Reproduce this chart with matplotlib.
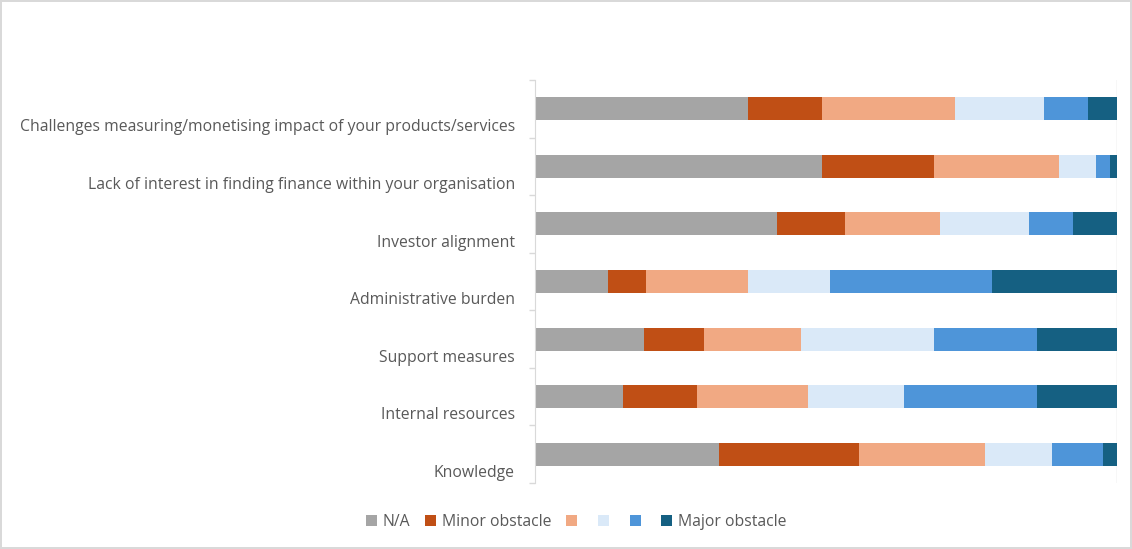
"""Stacked obstacle chart."""

import numpy as np
import matplotlib.pyplot as plt
from matplotlib.patches import Patch

CATEGORIES = ['Challenges measuring/monetising impact of your products/services',
              'Lack of interest in finding finance within your organisation',
              'Investor alignment',
              'Administrative burden',
              'Support measures',
              'Internal resources',
              'Knowledge']

SERIES = ['N/A', 'Minor obstacle', '', '', '', 'Major obstacle']
COLORS = ['#A5A5A5', '#C04F15', '#F1A983', '#DAE9F8', '#4E95D9', '#156082']

# share of respondents (%) per category, one list per series
NA_VALS = [36.6, 49.3, 41.6, 12.5, 18.8, 15.1, 31.6]
MINOR_VALS = [12.7, 19.2, 11.6, 6.5, 10.2, 12.7, 24.2]
LVL3_VALS = [22.9, 21.5, 16.4, 17.6, 16.7, 19.0, 21.6]
LVL4_VALS = [15.3, 6.4, 15.3, 14.1, 22.8, 16.5, 11.5]
LVL5_VALS = [7.6, 2.4, 7.6, 27.8, 17.8, 22.9, 8.8]
MAJOR_VALS = [5.0, 1.2, 7.5, 21.5, 13.7, 13.7, 2.4]

TEXT_COLOR = '#595959'


def main():
    plt.rcParams['font.family'] = ['Open Sans', 'DejaVu Sans']
    plt.rcParams['font.size'] = 11.35

    data = np.array([NA_VALS, MINOR_VALS, LVL3_VALS, LVL4_VALS, LVL5_VALS, MAJOR_VALS])
    data = data / data.sum(axis=0) * 100

    fig = plt.figure(figsize=(11.32, 5.49), dpi=100)
    fig.patch.set_edgecolor('#D9D9D9')
    fig.patch.set_linewidth(1.5)
    ax = fig.add_axes([0.4726, 0.1202, 0.9867 - 0.4726, 0.8543 - 0.1202])

    ypos = np.arange(len(CATEGORIES))
    left = np.zeros(len(CATEGORIES))
    handles = []
    for vals, color, name in zip(data, COLORS, SERIES):
        ax.barh(ypos, vals, left=left, height=0.4, color=color, linewidth=0, zorder=2)
        left += vals
        handles.append(Patch(facecolor=color, label=name))

    ax.set_xlim(0, 100)
    ax.set_ylim(len(CATEGORIES) - 0.5, -0.5)
    ax.axvline(100, color='#D9D9D9', linewidth=1, zorder=1)

    # category labels sit a bit below the bar centres
    ax.set_yticks(ypos + 0.29)
    ax.set_yticklabels(CATEGORIES, color=TEXT_COLOR)
    ax.tick_params(axis='y', length=0, pad=14.5)
    ax.set_yticks(np.arange(len(CATEGORIES) + 1) - 0.5, minor=True)
    ax.tick_params(axis='y', which='minor', length=4, color='#D9D9D9', width=1)
    ax.set_xticks([])

    for side in ['top', 'right', 'bottom']:
        ax.spines[side].set_visible(False)
    ax.spines['left'].set_color('#D9D9D9')

    fig.legend(handles=handles, labels=SERIES, loc='center',
               bbox_to_anchor=(0.509, 0.049), ncol=6, frameon=False,
               handlelength=0.7, handleheight=0.7, handletextpad=0.35,
               columnspacing=0.95, labelcolor=TEXT_COLOR)

    plt.savefig('out.png', dpi=100)
    plt.close()


if __name__ == '__main__':
    main()
